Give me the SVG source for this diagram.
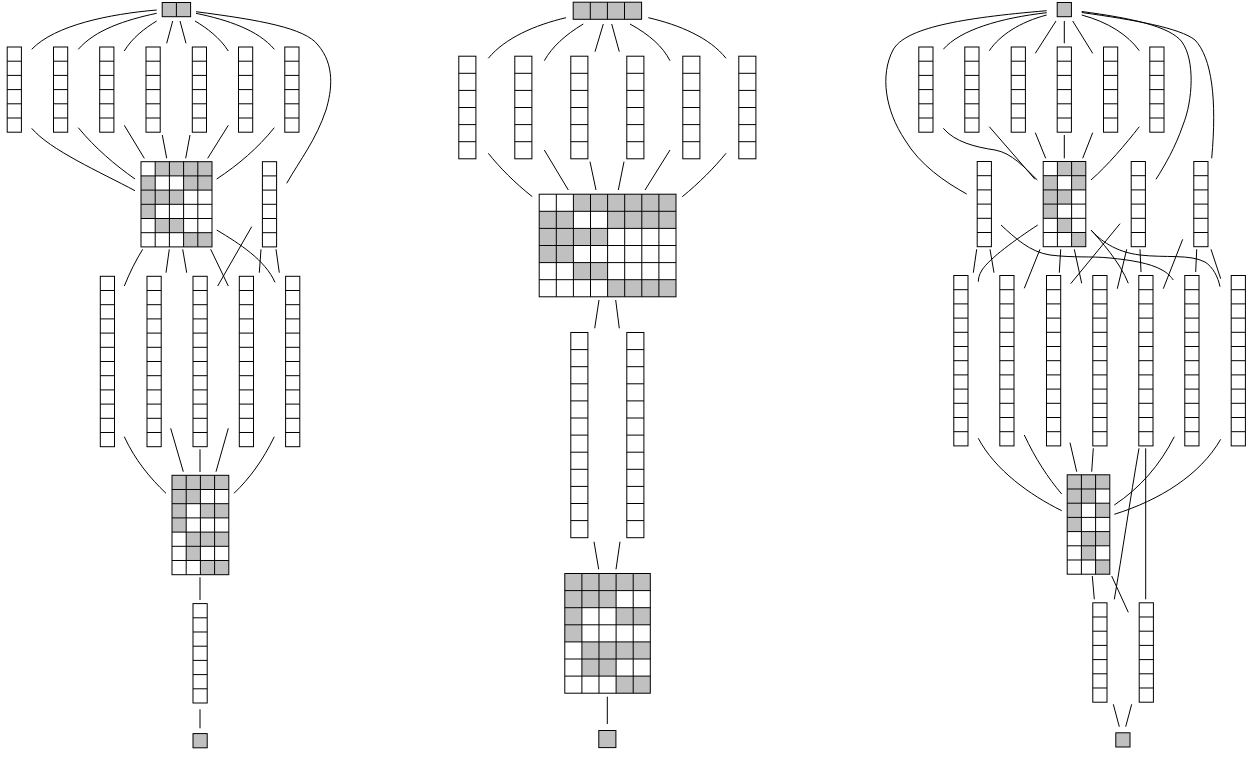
<svg xmlns="http://www.w3.org/2000/svg" xmlns:xlink="http://www.w3.org/1999/xlink" width="1255" height="758" viewBox="0 0 1255 758">
<style>
.w{fill:#fff;stroke:#000;stroke-width:1}
.bg{fill:#fff;stroke:none}
.g{fill:#c0c0c0;stroke:none}
.s{fill:none;stroke:#000;stroke-width:1}
.o{fill:none;stroke:#000;stroke-width:1}
.e{fill:none;stroke:#000;stroke-width:1}
</style>
<defs>
<g id="c6s"><rect class="w" width="14.2" height="85.2"/><path class="s" d="M0 14.2h14.2M0 28.4h14.2M0 42.6h14.2M0 56.8h14.2M0 71h14.2"/></g>
<g id="c7s"><rect class="w" width="14.2" height="99.4"/><path class="s" d="M0 14.2h14.2M0 28.4h14.2M0 42.6h14.2M0 56.8h14.2M0 71h14.2M0 85.2h14.2"/></g>
<g id="c12s"><rect class="w" width="14.2" height="170.4"/><path class="s" d="M0 14.2h14.2M0 28.4h14.2M0 42.6h14.2M0 56.8h14.2M0 71h14.2M0 85.2h14.2M0 99.4h14.2M0 113.6h14.2M0 127.8h14.2M0 142h14.2M0 156.2h14.2"/></g>
<g id="c6m"><rect class="w" width="17.1" height="102.6"/><path class="s" d="M0 17.1h17.1M0 34.2h17.1M0 51.3h17.1M0 68.4h17.1M0 85.5h17.1"/></g>
<g id="c12m"><rect class="w" width="17.1" height="205.2"/><path class="s" d="M0 17.1h17.1M0 34.2h17.1M0 51.3h17.1M0 68.4h17.1M0 85.5h17.1M0 102.6h17.1M0 119.7h17.1M0 136.8h17.1M0 153.9h17.1M0 171h17.1M0 188.1h17.1"/></g>
</defs>
<rect width="1255" height="758" fill="#fff"/>

<!-- LEFT DIAGRAM -->
<g id="L-top" transform="translate(162.2 2.5)"><rect class="g" width="28.4" height="14.2"/><path class="s" d="M14.2 0v14.2"/><rect class="o" width="28.4" height="14.2"/></g>
<g id="L-a1"><use xlink:href="#c6s" x="7.2" y="47"/></g>
<g id="L-a2"><use xlink:href="#c6s" x="53.5" y="47"/></g>
<g id="L-a3"><use xlink:href="#c6s" x="99.7" y="47"/></g>
<g id="L-a4"><use xlink:href="#c6s" x="146" y="47"/></g>
<g id="L-a5"><use xlink:href="#c6s" x="192.3" y="47"/></g>
<g id="L-a6"><use xlink:href="#c6s" x="238.5" y="47"/></g>
<g id="L-a7"><use xlink:href="#c6s" x="284.8" y="47"/></g>
<g id="L-m1" transform="translate(141 161.7)">
<rect class="bg" width="71" height="85.2"/>
<rect class="g" x="14.2" y="0" width="56.8" height="14.2"/>
<rect class="g" x="0" y="14.2" width="14.2" height="14.2"/><rect class="g" x="42.6" y="14.2" width="28.4" height="14.2"/>
<rect class="g" x="0" y="28.4" width="42.6" height="14.2"/>
<rect class="g" x="0" y="42.6" width="14.2" height="14.2"/>
<rect class="g" x="14.2" y="56.8" width="28.4" height="14.2"/>
<rect class="g" x="42.6" y="71" width="28.4" height="14.2"/>
<path class="s" d="M14.2 0v85.2M28.4 0v85.2M42.6 0v85.2M56.8 0v85.2M0 14.2h71M0 28.4h71M0 42.6h71M0 56.8h71M0 71h71"/>
<rect class="o" width="71" height="85.2"/>
</g>
<g id="L-side"><use xlink:href="#c6s" x="262.4" y="161.7"/></g>
<g id="L-b1"><use xlink:href="#c12s" x="100.3" y="276.3"/></g>
<g id="L-b2"><use xlink:href="#c12s" x="147" y="276.3"/></g>
<g id="L-b3"><use xlink:href="#c12s" x="193" y="276.3"/></g>
<g id="L-b4"><use xlink:href="#c12s" x="239.3" y="276.3"/></g>
<g id="L-b5"><use xlink:href="#c12s" x="285.6" y="276.3"/></g>
<g id="L-m2" transform="translate(172 475.3)">
<rect class="bg" width="56.8" height="99.4"/>
<rect class="g" x="0" y="0" width="56.8" height="14.2"/>
<rect class="g" x="0" y="14.2" width="28.4" height="14.2"/>
<rect class="g" x="0" y="28.4" width="14.2" height="14.2"/><rect class="g" x="28.4" y="28.4" width="28.4" height="14.2"/>
<rect class="g" x="0" y="42.6" width="14.2" height="14.2"/>
<rect class="g" x="14.2" y="56.8" width="42.6" height="14.2"/>
<rect class="g" x="14.2" y="71" width="14.2" height="14.2"/>
<rect class="g" x="28.4" y="85.2" width="28.4" height="14.2"/>
<path class="s" d="M14.2 0v99.4M28.4 0v99.4M42.6 0v99.4M0 14.2h56.8M0 28.4h56.8M0 42.6h56.8M0 56.8h56.8M0 71h56.8M0 85.2h56.8"/>
<rect class="o" width="56.8" height="99.4"/>
</g>
<g id="L-c"><use xlink:href="#c7s" x="193" y="603.6"/></g>
<g id="L-bottom"><rect class="g" x="193" y="733.6" width="14.2" height="14.2"/><rect class="o" x="193" y="733.6" width="14.2" height="14.2"/></g>

<!-- MIDDLE DIAGRAM -->
<g id="M-top" transform="translate(573.2 2.2)"><rect class="g" width="68.4" height="17.1"/><path class="s" d="M17.1 0v17.1M34.2 0v17.1M51.3 0v17.1"/><rect class="o" width="68.4" height="17.1"/></g>
<g id="M-a1"><use xlink:href="#c6m" x="458.8" y="56.2"/></g>
<g id="M-a2"><use xlink:href="#c6m" x="514.8" y="56.2"/></g>
<g id="M-a3"><use xlink:href="#c6m" x="570.8" y="56.2"/></g>
<g id="M-a4"><use xlink:href="#c6m" x="626.8" y="56.2"/></g>
<g id="M-a5"><use xlink:href="#c6m" x="682.8" y="56.2"/></g>
<g id="M-a6"><use xlink:href="#c6m" x="738.8" y="56.2"/></g>
<g id="M-m1" transform="translate(539.2 194.2)">
<rect class="bg" width="136.8" height="102.6"/>
<rect class="g" x="34.2" y="0" width="102.6" height="17.1"/>
<rect class="g" x="0" y="17.1" width="34.2" height="17.1"/><rect class="g" x="68.4" y="17.1" width="68.4" height="17.1"/>
<rect class="g" x="0" y="34.2" width="68.4" height="17.1"/>
<rect class="g" x="0" y="51.3" width="34.2" height="17.1"/>
<rect class="g" x="34.2" y="68.4" width="34.2" height="17.1"/>
<rect class="g" x="68.4" y="85.5" width="68.4" height="17.1"/>
<path class="s" d="M17.1 0v102.6M34.2 0v102.6M51.3 0v102.6M68.4 0v102.6M85.5 0v102.6M102.6 0v102.6M119.7 0v102.6M0 17.1h136.8M0 34.2h136.8M0 51.3h136.8M0 68.4h136.8M0 85.5h136.8"/>
<rect class="o" width="136.8" height="102.6"/>
</g>
<g id="M-b1"><use xlink:href="#c12m" x="570.8" y="332.5"/></g>
<g id="M-b2"><use xlink:href="#c12m" x="626.8" y="332.5"/></g>
<g id="M-m2" transform="translate(564.8 573.5)">
<rect class="bg" width="85.5" height="119.7"/>
<rect class="g" x="0" y="0" width="85.5" height="17.1"/>
<rect class="g" x="0" y="17.1" width="51.3" height="17.1"/>
<rect class="g" x="0" y="34.2" width="17.1" height="17.1"/><rect class="g" x="51.3" y="34.2" width="34.2" height="17.1"/>
<rect class="g" x="0" y="51.3" width="17.1" height="17.1"/>
<rect class="g" x="17.1" y="68.4" width="68.4" height="17.1"/>
<rect class="g" x="17.1" y="85.5" width="34.2" height="17.1"/>
<rect class="g" x="51.3" y="102.6" width="34.2" height="17.1"/>
<path class="s" d="M17.1 0v119.7M34.2 0v119.7M51.3 0v119.7M68.4 0v119.7M0 17.1h85.5M0 34.2h85.5M0 51.3h85.5M0 68.4h85.5M0 85.5h85.5M0 102.6h85.5"/>
<rect class="o" width="85.5" height="119.7"/>
</g>
<g id="M-bottom"><rect class="g" x="598.8" y="730.5" width="17.1" height="17.1"/><rect class="o" x="598.8" y="730.5" width="17.1" height="17.1"/></g>

<!-- RIGHT DIAGRAM -->
<g id="R-top"><rect class="g" x="1057.2" y="2.5" width="14.2" height="14.2"/><rect class="o" x="1057.2" y="2.5" width="14.2" height="14.2"/></g>
<g id="R-a1"><use xlink:href="#c6s" x="918.8" y="47"/></g>
<g id="R-a2"><use xlink:href="#c6s" x="964.8" y="47"/></g>
<g id="R-a3"><use xlink:href="#c6s" x="1011.2" y="47"/></g>
<g id="R-a4"><use xlink:href="#c6s" x="1057.2" y="47"/></g>
<g id="R-a5"><use xlink:href="#c6s" x="1103.5" y="47"/></g>
<g id="R-a6"><use xlink:href="#c6s" x="1149.8" y="47"/></g>
<g id="R-l"><use xlink:href="#c6s" x="977.2" y="161.5"/></g>
<g id="R-m1" transform="translate(1043.2 161.5)">
<rect class="bg" width="42.6" height="85.2"/>
<rect class="g" x="14.2" y="0" width="28.4" height="14.2"/>
<rect class="g" x="0" y="14.2" width="14.2" height="14.2"/><rect class="g" x="28.4" y="14.2" width="14.2" height="14.2"/>
<rect class="g" x="0" y="28.4" width="28.4" height="14.2"/>
<rect class="g" x="0" y="42.6" width="14.2" height="14.2"/>
<rect class="g" x="14.2" y="56.8" width="14.2" height="14.2"/>
<rect class="g" x="28.4" y="71" width="14.2" height="14.2"/>
<path class="s" d="M14.2 0v85.2M28.4 0v85.2M0 14.2h42.6M0 28.4h42.6M0 42.6h42.6M0 56.8h42.6M0 71h42.6"/>
<rect class="o" width="42.6" height="85.2"/>
</g>
<g id="R-s1"><use xlink:href="#c6s" x="1131.2" y="161.5"/></g>
<g id="R-s2"><use xlink:href="#c6s" x="1193.8" y="161.5"/></g>
<g id="R-b1"><use xlink:href="#c12s" x="953.8" y="275.5"/></g>
<g id="R-b2"><use xlink:href="#c12s" x="999.8" y="275.5"/></g>
<g id="R-b3"><use xlink:href="#c12s" x="1046.5" y="275.5"/></g>
<g id="R-b4"><use xlink:href="#c12s" x="1092.8" y="275.5"/></g>
<g id="R-b5"><use xlink:href="#c12s" x="1138.8" y="275.5"/></g>
<g id="R-b6"><use xlink:href="#c12s" x="1184.8" y="275.5"/></g>
<g id="R-b7"><use xlink:href="#c12s" x="1231.2" y="275.5"/></g>
<g id="R-m2" transform="translate(1067.2 474.8)">
<rect class="bg" width="42.6" height="99.4"/>
<rect class="g" x="0" y="0" width="42.6" height="14.2"/>
<rect class="g" x="0" y="14.2" width="28.4" height="14.2"/>
<rect class="g" x="0" y="28.4" width="14.2" height="14.2"/><rect class="g" x="28.4" y="28.4" width="14.2" height="14.2"/>
<rect class="g" x="0" y="42.6" width="14.2" height="14.2"/>
<rect class="g" x="14.2" y="56.8" width="28.4" height="14.2"/>
<rect class="g" x="14.2" y="71" width="14.2" height="14.2"/>
<rect class="g" x="28.4" y="85.2" width="14.2" height="14.2"/>
<path class="s" d="M14.2 0v99.4M28.4 0v99.4M0 14.2h42.6M0 28.4h42.6M0 42.6h42.6M0 56.8h42.6M0 71h42.6M0 85.2h42.6"/>
<rect class="o" width="42.6" height="99.4"/>
</g>
<g id="R-c1"><use xlink:href="#c7s" x="1092.8" y="602.8"/></g>
<g id="R-c2"><use xlink:href="#c7s" x="1139.2" y="602.8"/></g>
<g id="R-bottom"><rect class="g" x="1115.8" y="732.8" width="14.2" height="14.2"/><rect class="o" x="1115.8" y="732.8" width="14.2" height="14.2"/></g>

<!-- CONNECTORS -->
<g id="connectors" class="e">
<!-- left -->
<path d="M156.7 10C110 14 55 25 31.7 49.3"/>
<path d="M156.7 13.3C125 20 95 30 78.3 49.3"/>
<path d="M156.7 21C145 28 132 38 124.3 51"/>
<path d="M172.7 21L166.7 43.3"/>
<path d="M180 21L186 43.3"/>
<path d="M195 21C207 28 220 38 228.3 51"/>
<path d="M196 13.3C228 20 258 30 274.3 49.3"/>
<path d="M196 11.7C260 20 305 28 318 45C335 65 332 90 326 110C316 140 300 160 286.7 183.3"/>
<path d="M31.7 128.3C50 150 100 172 135 190.7"/>
<path d="M78.3 127.7C95 148 115 165 135 179"/>
<path d="M124.3 125.3L144.3 158.3"/>
<path d="M162.3 135L166.7 158.3"/>
<path d="M190 135L185.7 158.3"/>
<path d="M228.3 125.3L207.7 158.3"/>
<path d="M274.3 127.7C258 148 238 165 216.7 179"/>
<path d="M142.7 249.3C136 260 130 272 124.3 286"/>
<path d="M169.3 249.3L166 272.7"/>
<path d="M182.7 249.3L186.7 272.7"/>
<path d="M210.7 249.3L228.3 286"/>
<path d="M251.7 226.7L217.7 286"/>
<path d="M216.7 230C240 244 265 260 275 282.3"/>
<path d="M261 249.3L259.3 272.7"/>
<path d="M276 249.3L279.3 272.7"/>
<path d="M124.3 436.7C135 460 150 478 166 493.3"/>
<path d="M170.7 428.3L183.3 471.7"/>
<path d="M200 449.3V472"/>
<path d="M228.3 428.3L216 471.7"/>
<path d="M274.3 436.7C263 460 250 478 234 493.3"/>
<path d="M200 577.3V600"/>
<path d="M200 709.3V728.3"/>
<!-- middle -->
<path d="M566 17.7C535 25 505 38 488.3 58.3"/>
<path d="M583.3 24C565 35 552 47 544.3 60.7"/>
<path d="M603.3 24L595 51.7"/>
<path d="M611.7 24L619.3 51.7"/>
<path d="M630 24C650 35 663 47 670 60.7"/>
<path d="M648.3 17.7C680 25 710 38 726 58.3"/>
<path d="M488.3 153.3C500 168 515 183 532.3 196.7"/>
<path d="M544.3 150L568.3 190"/>
<path d="M590 161.7L596 190"/>
<path d="M624 161.7L618.3 190"/>
<path d="M670 150L645 190"/>
<path d="M726 153.3C714 168 699 183 682.3 196.7"/>
<path d="M599 300L594.7 328.3"/>
<path d="M615.7 300L619.3 328.3"/>
<path d="M594 541.7L598.7 569.3"/>
<path d="M620 541.7L616 569.3"/>
<path d="M607.3 696.7V724"/>
<!-- right -->
<path d="M1046.7 10.7C960 18 905 28 893 50C880 75 885 110 905 140C920 165 945 182 966.7 194"/>
<path d="M1046.7 12.7C1000 18 960 30 943.3 49.3"/>
<path d="M1046.7 15C1020 22 1000 35 989.3 50.7"/>
<path d="M1056 21L1035.3 53.3"/>
<path d="M1064.3 21V43.3"/>
<path d="M1072.7 21L1092.7 53.3"/>
<path d="M1081.7 15C1108 22 1128 35 1139.3 50.7"/>
<path d="M1081.7 11.5C1130 18 1170 26 1182 42C1195 60 1193 100 1183 125C1175 148 1165 165 1156 179.3"/>
<path d="M1081.7 12.5C1135 20 1180 28 1195 40C1212 58 1217 100 1211.7 158.3"/>
<path d="M943.3 128.3C955 142 975 147 995 150C1012 153 1025 168 1037.3 180"/>
<path d="M989.3 126.7L1035 179.3"/>
<path d="M1035.3 132.7L1045.7 158.3"/>
<path d="M1064.3 135V158.3"/>
<path d="M1092.7 132.7L1082.7 158.3"/>
<path d="M1139.3 126.7C1125 145 1108 165 1091 180"/>
<path d="M976.7 249.3L973.3 272.7"/>
<path d="M990 249.3L994 272.7"/>
<path d="M1001 225C1015 238 1030 252 1050 255C1075 258 1090 256 1110 258C1130 260 1150 263 1162 270C1168 273 1171 277 1173.3 280"/>
<path d="M1037.7 225C1015 240 990 258 982 270C979 275 978.5 278 978.3 281.7"/>
<path d="M1040 249.3L1024.3 288.3"/>
<path d="M1060.7 249.3L1059.3 272.7"/>
<path d="M1074.3 249.3L1081.7 283.3"/>
<path d="M1120 223.7L1070.7 283.7"/>
<path d="M1091 230C1100 240 1120 262 1128.3 283.3"/>
<path d="M1091 230C1100 240 1115 252 1140 255C1165 258 1190 254 1205 262C1213 267 1218 277 1220 286.7"/>
<path d="M1126.7 249.3L1117.3 288.7"/>
<path d="M1140 249.3L1141 272"/>
<path d="M1182.7 239.3L1163.3 288.7"/>
<path d="M1196.7 249.3L1195.7 272"/>
<path d="M1211 249.3L1220.7 278.7"/>
<path d="M978.3 438.3C995 470 1030 495 1061.7 510.7"/>
<path d="M1024.3 435C1035 458 1048 478 1061.7 494"/>
<path d="M1070 442.7L1076.7 471.7"/>
<path d="M1093.3 448.3L1091.7 471.7"/>
<path d="M1139 448.3C1130 500 1122 555 1114.3 599.3"/>
<path d="M1145.7 448.3V599.3"/>
<path d="M1174.3 436.7C1160 465 1140 488 1114.3 505"/>
<path d="M1220.7 439.3C1200 475 1160 500 1114.3 514.3"/>
<path d="M1092.3 576L1094.3 599.3"/>
<path d="M1111.7 576L1128.3 612.3"/>
<path d="M1113.3 704.3L1119.3 726.7"/>
<path d="M1131.7 704.3L1125.7 726.7"/>
</g>
</svg>
